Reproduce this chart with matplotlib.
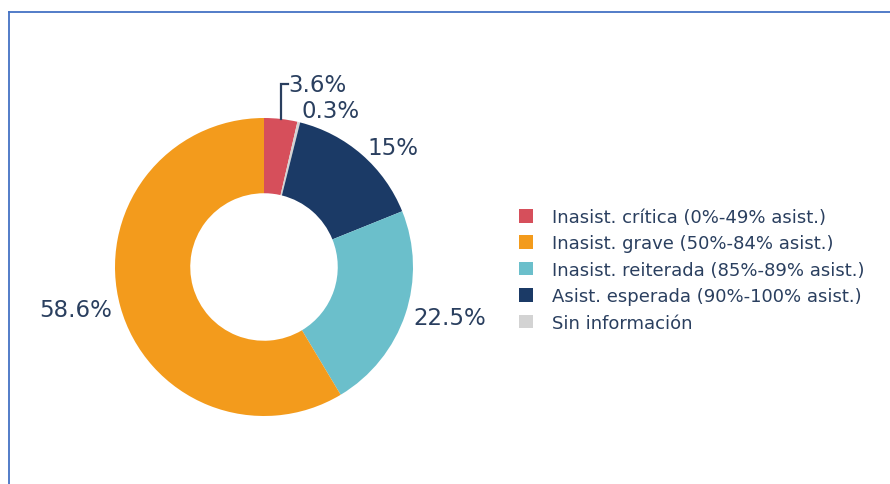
import numpy as np
import matplotlib
matplotlib.use("Agg")
import matplotlib.pyplot as plt
from matplotlib.patches import Patch
from matplotlib.lines import Line2D

# Data (clockwise from top, as drawn)
categories = ["Inasist. crítica (0%-49% asist.)", "Sin información",
              "Asist. esperada (90%-100% asist.)", "Inasist. reiterada (85%-89% asist.)",
              "Inasist. grave (50%-84% asist.)"]
values = [3.6, 0.3, 15.0, 22.5, 58.6]
value_labels = ["3.6%", "0.3%", "15%", "22.5%", "58.6%"]
colors = ["#D64F5B", "#D3D3D3", "#1B3A66", "#6BBFCB", "#F39B1C"]

legend_order = ["Inasist. crítica (0%-49% asist.)", "Inasist. grave (50%-84% asist.)",
                "Inasist. reiterada (85%-89% asist.)", "Asist. esperada (90%-100% asist.)",
                "Sin información"]

text_color = "#2A3F5F"

W, H = 890, 485
fig = plt.figure(figsize=(W / 100, H / 100), dpi=100)
fig.patch.set_facecolor("white")

cx, cy, R = 264, 268, 149
ax = fig.add_axes([(cx - R) / W, (H - cy - R) / H, 2 * R / W, 2 * R / H])
wedges, _ = ax.pie(values, colors=colors, startangle=90, counterclock=False,
                   radius=1.0, wedgeprops=dict(width=0.505, linewidth=0))
ax.set_xlim(-1, 1)
ax.set_ylim(-1, 1)
ax.set_aspect("auto")
ax.axis("off")

fs = 16.5
for i, (w, lab) in enumerate(zip(wedges, value_labels)):
    mid = np.deg2rad((w.theta1 + w.theta2) / 2)
    c, s = np.cos(mid), np.sin(mid)
    if i == 0:
        # leader line for the small slice
        y1 = 1.225
        ax.plot([c, c, c + 0.045], [1.0 * s, y1, y1], color=text_color, lw=1.6,
                clip_on=False, solid_joinstyle="miter")
        ax.text(c + 0.05, y1, lab, ha="left", va="center", fontsize=fs,
                color=text_color, clip_on=False)
    else:
        r = 1.08 if i == 1 else 1.06
        ax.text(r * c, r * s, lab, ha="left" if c > 0 else "right", va="center",
                fontsize=fs, color=text_color, clip_on=False)

handles = [Patch(facecolor=colors[categories.index(n)], edgecolor="none") for n in legend_order]
fig.legend(handles, legend_order, loc="upper left", bbox_to_anchor=(519 / W, 1 - 209 / H),
           frameon=False, fontsize=13, handlelength=0.78, handleheight=0.78,
           handletextpad=1.05, labelspacing=0.465, borderpad=0, borderaxespad=0,
           labelcolor=text_color)

# border lines
fig.add_artist(Line2D([9 / W, 1.0], [1 - 13 / H, 1 - 13 / H], color="#4472C4", lw=1.3))
fig.add_artist(Line2D([9 / W, 9 / W], [0, 1 - 13 / H], color="#4472C4", lw=1.3))

fig.savefig("out.png", dpi=100, facecolor="white")
